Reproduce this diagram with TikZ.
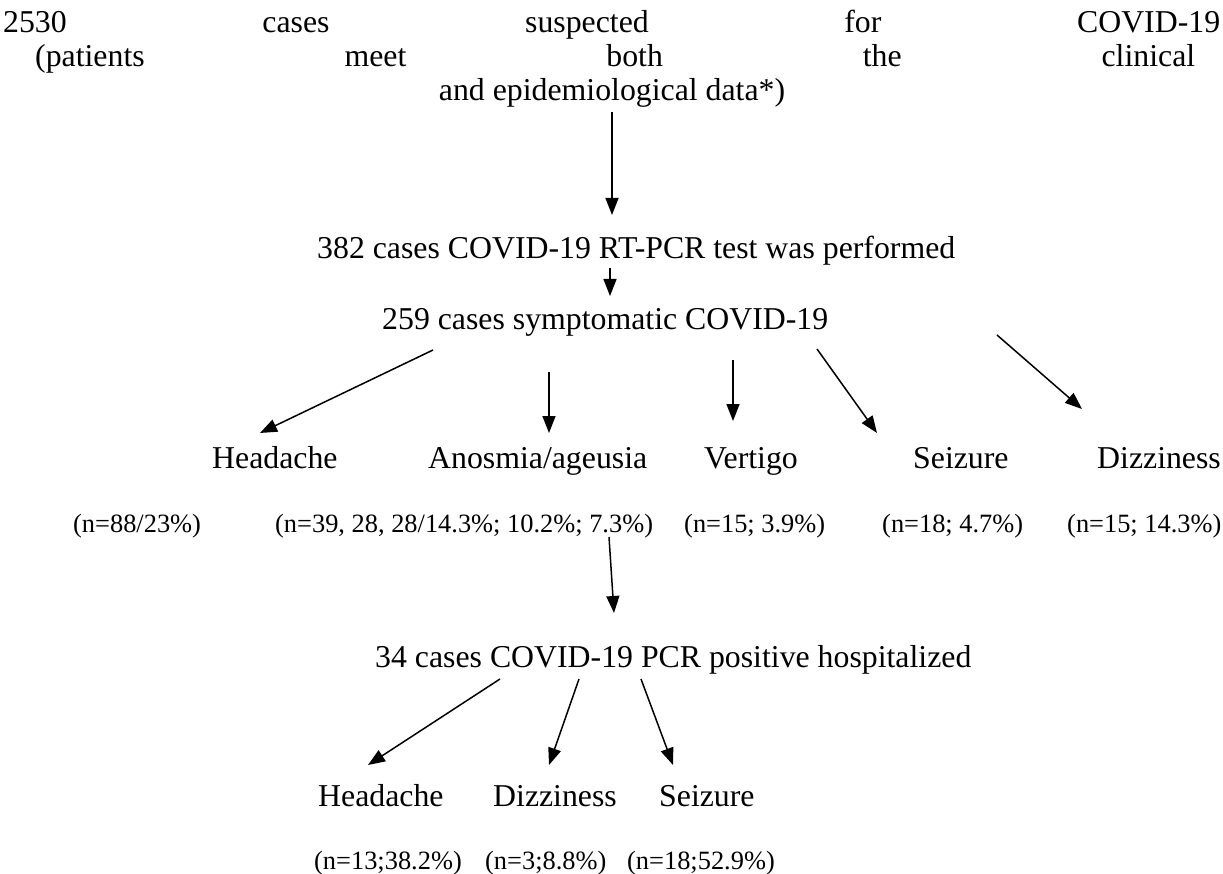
\documentclass[tikz,border=0pt]{standalone}
\usepackage{fontspec}
\setmainfont{Liberation Serif}
\usetikzlibrary{arrows.meta}
\tikzset{
  big/.style={inner sep=0pt, anchor=base west, font=\fontsize{31.8}{38}\selectfont},
  small/.style={inner sep=0pt, anchor=base west, font=\fontsize{26.4}{32}\selectfont},
  arr/.style={line width=1.5pt, -{Triangle[length=17pt,width=13pt]}}
}
\begin{document}
\begin{tikzpicture}[x=1pt,y=-1pt]
\useasboundingbox (0,0) rectangle (1223,874);
% title
\node[big] (t1) at (3,33) {\hbox to 1217pt{2530\hfill cases\hfill suspected\hfill for\hfill COVID-19}};
\node[big] (t2) at (35,67) {\hbox to 1160pt{(patients\hfill meet\hfill both\hfill the\hfill clinical}};
\node[big, anchor=base] (t3) at (612,101) {and epidemiological data*)};
% level 2
\node[big] (n382) at (317,259) {382 cases COVID-19 RT-PCR test was performed};
\node[big] (n259) at (382,330) {259 cases symptomatic COVID-19};
% symptoms
\node[big] (h1) at (212,468) {Headache};
\node[big] (a1) at (428,468) {Anosmia/ageusia};
\node[big] (v1) at (704,468) {Vertigo};
\node[big] (s1) at (913,468) {Seizure};
\node[big] (d1) at (1097,468) {Dizziness};
\node[small] (hn1) at (73,532) {(n=88/23\%)};
\node[small] (an1) at (275,532) {(n=39, 28, 28/14.3\%; 10.2\%; 7.3\%)};
\node[small] (vn1) at (684,532) {(n=15; 3.9\%)};
\node[small] (sn1) at (882,532) {(n=18; 4.7\%)};
\node[small] (dn1) at (1067,532) {(n=15; 14.3\%)};
% hospitalized
\node[big] (n34) at (375,667) {34 cases COVID-19 PCR positive hospitalized};
\node[big] (h2) at (318,806) {Headache};
\node[big] (d2) at (493,806) {Dizziness};
\node[big] (s2) at (659,806) {Seizure};
\node[small] (hn2) at (314,869) {(n=13;38.2\%)};
\node[small] (dn2) at (485,869) {(n=3;8.8\%)};
\node[small] (sn2) at (627,869) {(n=18;52.9\%)};
% arrow end points
\coordinate (p0a) at (612,112); \coordinate (p0b) at (612,215);
\coordinate (p1a) at (610,268); \coordinate (p1b) at (610,296);
\coordinate (ha) at (433,350); \coordinate (hb) at (260,433);
\coordinate (aa) at (549,372); \coordinate (ab) at (549,433);
\coordinate (va) at (733,360); \coordinate (vb) at (733,421);
\coordinate (sa) at (817,349); \coordinate (sb) at (877,433);
\coordinate (da) at (997,335); \coordinate (db) at (1082,409);
\coordinate (qa) at (609,537); \coordinate (qb) at (614,613);
\coordinate (h2a) at (500,679); \coordinate (h2b) at (368,765);
\coordinate (d2a) at (579,679); \coordinate (d2b) at (549,765);
\coordinate (s2a) at (641,679); \coordinate (s2b) at (673,765);
\draw[arr] (p0a) -- (p0b);
\draw[arr] (p1a) -- (p1b);
\draw[arr] (ha) -- (hb);
\draw[arr] (aa) -- (ab);
\draw[arr] (va) -- (vb);
\draw[arr] (sa) -- (sb);
\draw[arr] (da) -- (db);
\draw[arr] (qa) -- (qb);
\draw[arr] (h2a) -- (h2b);
\draw[arr] (d2a) -- (d2b);
\draw[arr] (s2a) -- (s2b);
\end{tikzpicture}
\end{document}
